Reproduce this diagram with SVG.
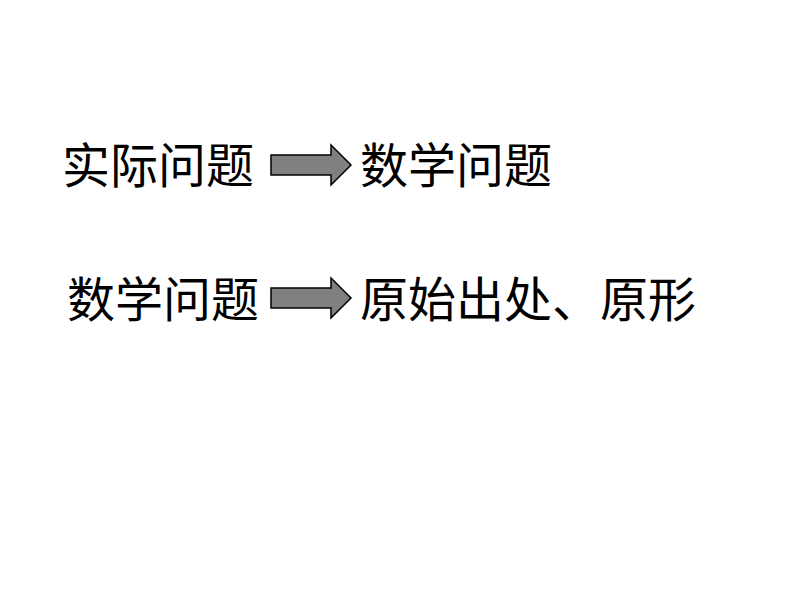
<svg xmlns="http://www.w3.org/2000/svg" width="794" height="596" viewBox="0 0 794 596">
<style>
.t{font-family:"Noto Sans CJK SC","Noto Sans CJK JP",sans-serif;font-size:48px;fill:#000}
.a{fill:#808080;stroke:#000;stroke-width:1.5;stroke-linejoin:miter}
</style>
<rect width="794" height="596" fill="#fff"/>
<g id="n1"><text class="t" x="62" y="183">实际问题</text></g>
<g id="n2"><text class="t" x="360" y="183">数学问题</text></g>
<g id="n3"><text class="t" x="67" y="317">数学问题</text></g>
<g id="n4"><text class="t" x="360" y="317">原始出处、原形</text></g>
<g id="connectors">
<path class="a" d="M271,155 H331 V145 L351,165 L331,185 V175 H271 Z"/>
<path class="a" d="M271,288 H331 V278 L351,298 L331,318 V308 H271 Z"/>
</g>
</svg>
